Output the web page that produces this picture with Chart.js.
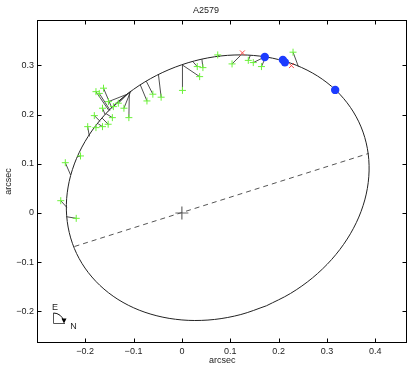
<!DOCTYPE html>
<html><head><meta charset="utf-8">
<script src="https://cdn.jsdelivr.net/npm/chart.js@4/dist/chart.umd.min.js"></script>
<style>html,body{margin:0;padding:0;background:#fff}</style>
</head><body>
<canvas id="c" width="415" height="368"></canvas>
<script>
const chartTitle = 'A2579';
const axisLabel = 'arcsec';
const xTicks = [-0.2, -0.1, 0, 0.1, 0.2, 0.3, 0.4];
const yTicks = [-0.2, -0.1, 0, 0.1, 0.2, 0.3];

// orbit (ellipse) points
const orbitX = [0.1748,0.1218,0.0674,0.0131,-0.0392,-0.0882,-0.1322,-0.1699,-0.2003,-0.2223,-0.2352,-0.2388,-0.2329,-0.2177,-0.1936,-0.1613,-0.1219,-0.0766,-0.0267,0.0263,0.0808,0.1350,0.1874,0.2363,0.2803,0.3181,0.3484,0.3704,0.3834,0.3870,0.3811,0.3658,0.3417,0.3095,0.2701,0.2247,0.1748];
const orbitY = [-0.1884,-0.2062,-0.2162,-0.2180,-0.2116,-0.1973,-0.1754,-0.1466,-0.1118,-0.0720,-0.0285,0.0174,0.0644,0.1110,0.1558,0.1974,0.2346,0.2662,0.2912,0.3090,0.3190,0.3208,0.3145,0.3002,0.2783,0.2495,0.2146,0.1749,0.1314,0.0854,0.0384,-0.0082,-0.0529,-0.0945,-0.1317,-0.1633,-0.1884];

// observed positions (green +) and their predicted positions on the orbit
const obsX = [0.0741,0.1037,0.1373,0.1476,0.1645,0.2298,0.0318,0.0435,0.0367,0.0012,-0.0429,-0.0600,-0.0722,
              -0.1620,-0.1776,-0.1708,-0.1518,-0.1314,-0.1416,-0.1198,-0.1096,-0.1641,-0.1810,-0.1437,-0.1524,-0.1641,-0.1776,-0.1947,
              -0.2410,-0.2504,-0.2184,-0.2096];
const obsY = [0.3211,0.3028,0.3100,0.3055,0.2974,0.3266,0.2974,0.2953,0.2770,0.2490,0.2352,0.2413,0.2276,
              0.2535,0.2465,0.2429,0.2262,0.2230,0.2161,0.2128,0.1937,0.2128,0.1978,0.1937,0.1803,0.1754,0.1734,0.1754,
              0.1022,0.0250,-0.0108,0.1159];
const fitX = [0.0782,0.1216,0.1414,0.1694,0.1727,0.2408,0.0231,0.0414,0.0012,0.0012,-0.0484,-0.0735,-0.0861,
              -0.1443,-0.1504,-0.1484,-0.1137,-0.1076,-0.1116,-0.1055,-0.1086,-0.1586,-0.1688,-0.1565,-0.1647,-0.1729,-0.1769,-0.1912,
              -0.2300,-0.2380,-0.2385,-0.2165];
const fitY = [0.3180,0.3203,0.3198,0.3160,0.3156,0.2975,0.3070,0.3124,0.3005,0.3005,0.2810,0.2675,0.2605,
              0.2125,0.2075,0.2087,0.2410,0.2460,0.2430,0.2480,0.2450,0.1998,0.1860,0.2016,0.1926,0.1811,0.1755,0.1555,
              0.0772,0.0116,-0.0075,0.1140];

const redX = [0.1251, 0.2265];
const redY = [0.3252, 0.2994];
const blueX = [0.1714, 0.2088, 0.2129, 0.3169];
const blueY = [0.3170, 0.3110, 0.3060, 0.2500];
const nodeX = [-0.222, 0.386];
const nodeY = [-0.068, 0.121];
const originX = [0];
const originY = [0];

const FONT = "'Liberation Sans', Arial, Helvetica, sans-serif";
const pts = (xs, ys) => xs.map((v, i) => ({x: v, y: ys[i]}));
const fmt = v => v === 0 ? '0' : (v < 0 ? '\u2212' : '') + Math.abs(v).toFixed(1);

const datasets = [];
datasets.push({data: pts(blueX, blueY), pointStyle: 'circle', pointRadius: 4.2, backgroundColor: '#1d3cff', borderWidth: 0, showLine: false});
datasets.push({data: pts(redX, redY), pointStyle: 'crossRot', pointRadius: 3.5, borderColor: '#ff4a4a', borderWidth: 1, showLine: false});
datasets.push({data: pts(obsX, obsY), pointStyle: 'cross', pointRadius: 3.5, borderColor: '#6cf23a', borderWidth: 1, showLine: false});
obsX.forEach((v, i) => {
  datasets.push({data: [{x: v, y: obsY[i]}, {x: fitX[i], y: fitY[i]}], showLine: true, pointRadius: 0, borderColor: '#222', borderWidth: 0.8});
});
datasets.push({data: pts(orbitX, orbitY), showLine: true, pointRadius: 0, borderColor: '#222', borderWidth: 1, tension: 0.33});
datasets.push({data: pts(nodeX, nodeY), showLine: true, pointRadius: 0, borderColor: '#555', borderWidth: 1, borderDash: [5, 4]});
datasets.push({data: pts(originX, originY), pointStyle: 'cross', pointRadius: 6.5, borderColor: '#666', borderWidth: 1.2, showLine: false});

const frame = {
  id: 'frame',
  afterDraw(chart) {
    const {ctx, chartArea: a, scales: {x, y}} = chart;
    ctx.save();
    ctx.strokeStyle = '#000'; ctx.lineWidth = 1;
    const L = Math.round(a.left) + 0.5, R = Math.round(a.right) - 0.5, T = Math.round(a.top) + 0.5, B = Math.round(a.bottom) - 0.5;
    ctx.strokeRect(L, T, R - L, B - T);
    ctx.beginPath();
    xTicks.forEach(v => { const p = Math.round(x.getPixelForValue(v)) + 0.5; ctx.moveTo(p, B); ctx.lineTo(p, B - 4); ctx.moveTo(p, T); ctx.lineTo(p, T + 4); });
    yTicks.forEach(v => { const p = Math.round(y.getPixelForValue(v)) + 0.5; ctx.moveTo(L, p); ctx.lineTo(L + 4, p); ctx.moveTo(R, p); ctx.lineTo(R - 4, p); });
    ctx.stroke();
    // compass
    const cx = Math.round(a.left) + 16.5, cy = Math.round(a.bottom) - 19.5, r = 10.5;
    ctx.strokeStyle = '#555';
    ctx.beginPath(); ctx.moveTo(cx, cy - r); ctx.lineTo(cx, cy); ctx.lineTo(cx + r + 1, cy); ctx.stroke();
    ctx.strokeStyle = '#111';
    ctx.beginPath(); ctx.arc(cx, cy, r, -Math.PI / 2, -0.25); ctx.stroke();
    ctx.fillStyle = '#000';
    ctx.beginPath(); ctx.moveTo(cx + r - 2.5, cy - 5); ctx.lineTo(cx + r + 2.5, cy - 5); ctx.lineTo(cx + r, cy); ctx.closePath(); ctx.fill();
    ctx.fillStyle = '#222'; ctx.font = '9px ' + FONT; ctx.textAlign = 'center'; ctx.textBaseline = 'middle';
    ctx.fillText('E', cx + 1.5, cy - r - 5.5);
    ctx.fillText('N', cx + r + 9.5, cy + 3.5);
    ctx.restore();
  }
};

new Chart(document.getElementById('c'), {
  type: 'scatter',
  data: {datasets},
  options: {
    responsive: false, animation: false, devicePixelRatio: 1,
    layout: {padding: {left: 0, right: 3, top: 0, bottom: 0}},
    plugins: {
      legend: {display: false}, tooltip: {enabled: false},
      title: {display: true, text: chartTitle, color: '#222', font: {family: FONT, size: 9, weight: 'normal'}, padding: {top: 5, bottom: 4.2}}
    },
    scales: {
      x: {
        type: 'linear', min: -0.2995, max: 0.466,
        afterBuildTicks: s => { s.ticks = xTicks.map(v => ({value: v})); },
        afterFit: s => { s.height = 25; },
        grid: {display: false, drawTicks: false, tickLength: 0}, border: {display: false},
        ticks: {callback: v => fmt(v), color: '#222', font: {family: FONT, size: 9}, padding: 3, maxRotation: 0},
        title: {display: true, text: axisLabel, color: '#222', font: {family: FONT, size: 9}, padding: {top: 0, bottom: 2.5}}
      },
      y: {
        type: 'linear', min: -0.264, max: 0.392,
        afterBuildTicks: s => { s.ticks = yTicks.map(v => ({value: v})); },
        afterFit: s => { s.width = 37; },
        grid: {display: false, drawTicks: false, tickLength: 0}, border: {display: false},
        ticks: {callback: v => fmt(v), color: '#222', font: {family: FONT, size: 9}, padding: 3},
        title: {display: true, text: axisLabel, color: '#222', font: {family: FONT, size: 9}, padding: {top: 3.6, bottom: 0}}
      }
    }
  },
  plugins: [frame]
});
</script>
</body></html>
